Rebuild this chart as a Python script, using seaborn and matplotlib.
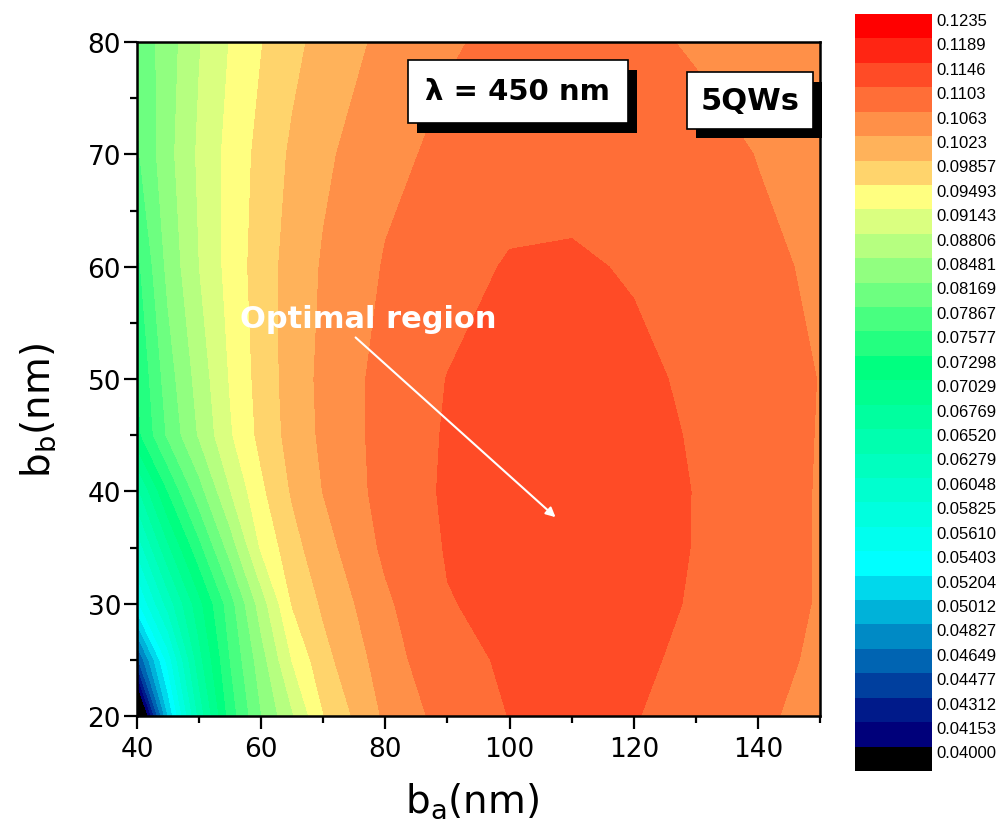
import matplotlib
matplotlib.use("Agg")
import matplotlib.pyplot as plt
import matplotlib.patheffects as pe
import seaborn as sns

sns.set_style("ticks")
plt.rcParams['font.family'] = ['DejaVu Sans']
plt.rcParams['text.color'] = 'black'
plt.rcParams['axes.labelcolor'] = 'black'
plt.rcParams['xtick.color'] = 'black'
plt.rcParams['ytick.color'] = 'black'

''' grid of the map: b_a columns, b_b rows (nm) '''
ba = [40, 45, 50, 55, 60, 65, 70, 80, 90, 100, 110, 120, 130, 140, 150]
bb = [20, 25, 30, 35, 40, 45, 50, 60, 70, 80]

''' values read off the map, one list per b_b row '''
row_20 = [0.0357, 0.0520, 0.0659, 0.0770, 0.0847, 0.0910, 0.0984, 0.1070, 0.1120, 0.1147, 0.1158, 0.1148, 0.1130, 0.1110, 0.1090]
row_25 = [0.0460, 0.0570, 0.0693, 0.0787, 0.0866, 0.0951, 0.1010, 0.1083, 0.1137, 0.1150, 0.1159, 0.1151, 0.1140, 0.1117, 0.1096]
row_30 = [0.0555, 0.0638, 0.0721, 0.0803, 0.0897, 0.0988, 0.1029, 0.1096, 0.1144, 0.1156, 0.1159, 0.1153, 0.1144, 0.1121, 0.1100]
row_35 = [0.0612, 0.0698, 0.0777, 0.0862, 0.0954, 0.1009, 0.1048, 0.1111, 0.1149, 0.1157, 0.1161, 0.1156, 0.1145, 0.1122, 0.1100]
row_40 = [0.0670, 0.0758, 0.0835, 0.0913, 0.0978, 0.1027, 0.1064, 0.1118, 0.1152, 0.1158, 0.1162, 0.1158, 0.1145, 0.1123, 0.1100]
row_45 = [0.0748, 0.0822, 0.0884, 0.0945, 0.0996, 0.1037, 0.1071, 0.1118, 0.1150, 0.1159, 0.1162, 0.1157, 0.1143, 0.1122, 0.1101]
row_50 = [0.0756, 0.0833, 0.0894, 0.0952, 0.1000, 0.1040, 0.1073, 0.1117, 0.1147, 0.1158, 0.1161, 0.1156, 0.1138, 0.1120, 0.1102]
row_60 = [0.0778, 0.0857, 0.0914, 0.0962, 0.1004, 0.1038, 0.1067, 0.1106, 0.1129, 0.1150, 0.1152, 0.1142, 0.1125, 0.1110, 0.1098]
row_70 = [0.0812, 0.0870, 0.0920, 0.0961, 0.0997, 0.1029, 0.1055, 0.1093, 0.1112, 0.1124, 0.1128, 0.1125, 0.1116, 0.1102, 0.1085]
row_80 = [0.0822, 0.0865, 0.0912, 0.0951, 0.0984, 0.1012, 0.1037, 0.1073, 0.1099, 0.1112, 0.1116, 0.1111, 0.1099, 0.1086, 0.1072]

''' contour levels and their colours (bottom to top) '''
level_labels = ['0.04000', '0.04153', '0.04312', '0.04477', '0.04649', '0.04827',
                '0.05012', '0.05204', '0.05403', '0.05610', '0.05825', '0.06048',
                '0.06279', '0.06520', '0.06769', '0.07029', '0.07298', '0.07577',
                '0.07867', '0.08169', '0.08481', '0.08806', '0.09143', '0.09493',
                '0.09857', '0.1023', '0.1063', '0.1103', '0.1146', '0.1189', '0.1235']
band_colors = ['#000000', '#00007a', '#001a8a', '#003f9e', '#0064b2', '#008ac5',
               '#00b2d9', '#00d8ec', '#00ffff', '#00ffef', '#00ffdf', '#00ffcf',
               '#00ffbf', '#00ffaf', '#00ff9f', '#00ff8f', '#00ff80', '#24ff80',
               '#48ff80', '#6dff80', '#91ff80', '#b6ff80', '#daff80', '#ffff80',
               '#ffd46c', '#ffb25a', '#ff9048', '#ff6e37', '#ff4b26', '#ff2513',
               '#ff0000']

levels = [float(s) for s in level_labels]
bounds = [0.0] + levels[1:] + [0.2]
Z = [row_20, row_25, row_30, row_35, row_40, row_45, row_50, row_60, row_70, row_80]

fig = plt.figure(figsize=(10.01, 8.29), dpi=100)
ax = fig.add_axes([0.1369, 0.1351, 0.6823, 0.8130])
cax = fig.add_axes([0.8541, 0.0688, 0.0770, 0.9131])

cs = ax.contourf(ba, bb, Z, levels=bounds, colors=sns.color_palette(band_colors))

ax.set_xlim(40, 150)
ax.set_ylim(20, 80)
ax.set_xticks(range(40, 141, 20))
ax.set_xticks(range(50, 151, 20), minor=True)
ax.set_yticks(range(20, 81, 10))
ax.set_yticks(range(25, 80, 10), minor=True)
ax.tick_params(which='both', direction='out', width=1.6, color='black',
               top=False, right=False, labelsize=19)
ax.tick_params(which='major', length=9.5)
ax.tick_params(which='minor', length=5)
ax.tick_params(axis='x', pad=5)
ax.tick_params(axis='y', pad=2)
for s in ax.spines.values():
    s.set_linewidth(1.8)
    s.set_color('black')

ax.set_xlabel(r'b$_\mathregular{a}$(nm)', fontsize=28)
ax.set_ylabel(r'b$_\mathregular{b}$(nm)', fontsize=28)
ax.xaxis.set_label_coords(0.49, -0.095)
ax.yaxis.set_label_coords(-0.115, 0.455)

# text boxes with drop shadow
shadow = [pe.SimplePatchShadow(offset=(6.5, -7), shadow_rgbFace='black', alpha=1.0),
          pe.Normal()]
t1 = ax.text(101.3, 75.6, u'\u03bb = 450 nm', fontsize=21, weight='bold',
             ha='center', va='center',
             bbox=dict(boxstyle='square,pad=0.6', fc='white', ec='black', lw=1.2))
t2 = ax.text(138.7, 74.8, '5QWs', fontsize=22, weight='bold',
             ha='center', va='center',
             bbox=dict(boxstyle='square,pad=0.45', fc='white', ec='black', lw=1.2))
t1.get_bbox_patch().set_path_effects(shadow)
t2.get_bbox_patch().set_path_effects(shadow)

ax.text(77.3, 55.4, 'Optimal region', color='white', fontsize=22, weight='bold',
        ha='center', va='center')
ax.annotate('', xy=(107.4, 37.7), xytext=(75.2, 53.7),
            arrowprops=dict(arrowstyle='-|>', color='white', lw=1.5,
                            mutation_scale=14, shrinkA=0, shrinkB=0))

# colour scale
cbar = fig.colorbar(cs, cax=cax, spacing='uniform')
ticks = [bounds[k] + 0.8 * (bounds[k + 1] - bounds[k]) for k in range(len(level_labels))]
cbar.set_ticks(ticks, labels=level_labels)
cbar.minorticks_off()
cbar.outline.set_visible(False)
cbar.ax.tick_params(length=0, labelsize=12, pad=3)
for lab in cbar.ax.get_yticklabels():
    lab.set_family(['Liberation Sans', 'DejaVu Sans'])

plt.savefig('out.png', dpi=100)
plt.close()
